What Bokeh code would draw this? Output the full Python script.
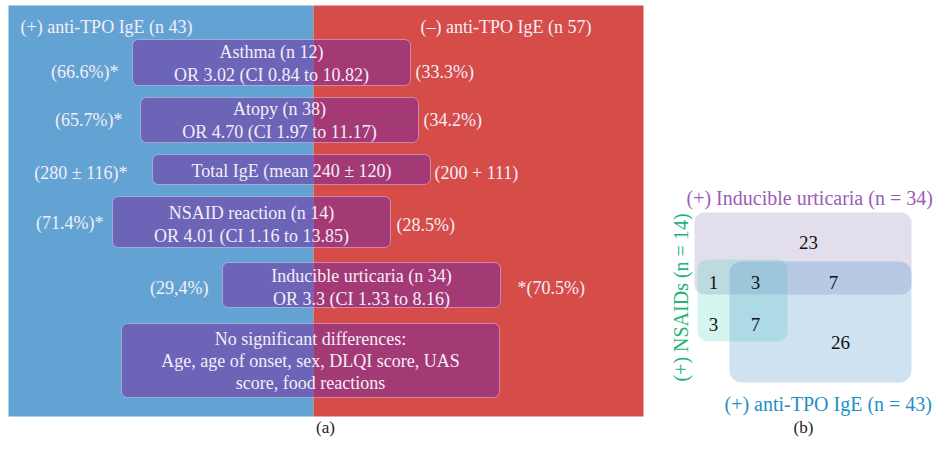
import math
from bokeh.plotting import figure
from bokeh.models import Range1d
from bokeh.embed import file_html
from bokeh.resources import INLINE
from bokeh.core.properties import value

FONT = "Liberation Serif"

# ---------------- data ----------------
group_labels = ["(+) anti-TPO IgE (n 43)", "(–) anti-TPO IgE (n 57)"]
box_lines = [
    ["Asthma (n 12)", "OR 3.02 (CI 0.84 to 10.82)"],
    ["Atopy (n 38)", "OR 4.70 (CI 1.97 to 11.17)"],
    ["Total IgE (mean 240 ± 120)"],
    ["NSAID reaction (n 14)", "OR 4.01 (CI 1.16 to 13.85)"],
    ["Inducible urticaria (n 34)", "OR 3.3 (CI 1.33 to 8.16)"],
    ["No significant differences:", "Age, age of onset, sex, DLQI score, UAS", "score, food reactions"],
]
pos_values = ["(66.6%)*", "(65.7%)*", "(280 ± 116)*", "(71.4%)*", "(29,4%)"]
neg_values = ["(33.3%)", "(34.2%)", "(200 + 111)", "(28.5%)", "*(70.5%)"]
venn_set_labels = ["(+) Inducible urticaria (n = 34)", "(+) NSAIDs (n = 14)", "(+) anti-TPO IgE (n = 43)"]
venn_counts = ["23", "1", "3", "7", "3", "7", "26"]
panel_captions = ["(a)", "(b)"]

# ---------------- layout (pixel coordinates) ----------------
box_left = [132, 140, 152, 112, 222, 121]
box_right = [410, 418, 430, 390, 500, 499]
box_top = [39, 97, 154, 196, 262, 323]
box_bottom = [85, 142, 184, 247, 307, 397]
line_y = [[51, 74], [108, 131], [170], [212, 235], [275, 298], [338, 360, 382]]
pos_x = [118, 122, 127, 103, 208]
pos_y = [71, 119, 172, 222, 287]
neg_x = [415, 423, 434, 396, 517]
neg_y = [71, 119, 172, 224, 287]

W, H = 933, 439
p = figure(width=W, height=H, x_range=Range1d(0, W), y_range=Range1d(H, 0),
           output_backend="svg", toolbar_location=None, min_border=0,
           background_fill_color="white", border_fill_color="white", outline_line_color=None)
p.axis.visible = False
p.grid.visible = False

# panel (a) backgrounds
p.quad(left=[8], right=[313], top=[5], bottom=[416], fill_color="#63a3d3", line_color=None)
p.quad(left=[313], right=[643], top=[5], bottom=[416], fill_color="#d54c49", line_color=None)

# boxes
p.quad(left=box_left, right=box_right, top=box_top, bottom=box_bottom,
       fill_color="#742a9e", fill_alpha=0.52, line_color="#e8dcf5", line_alpha=0.45,
       line_width=1, border_radius=6)

def txt(xs, ys, texts, size, color, align="center", angle=0.0, baseline="middle"):
    p.text(x=xs, y=ys, text=texts, text_font=value(FONT), text_font_size=f"{size}px",
           text_color=color, text_align=align, text_baseline=baseline, angle=angle)

for i, lines in enumerate(box_lines):
    cx = (box_left[i] + box_right[i]) / 2
    txt([cx] * len(lines), line_y[i], lines, 18, "#f4eef8")

txt(pos_x, pos_y, pos_values, 18, "#f4eef8", align="right")
txt(neg_x, neg_y, neg_values, 18, "#f4eef8", align="left")
txt([20], [26], [group_labels[0]], 18, "#f4eef8", align="left")
txt([420], [26], [group_labels[1]], 18, "#f4eef8", align="left")

# panel (b) venn
p.quad(left=[694], right=[911], top=[212], bottom=[294], fill_color="#8b7bb5", fill_alpha=0.25,
       line_color=None, border_radius=10)
p.quad(left=[697], right=[787], top=[259], bottom=[341], fill_color="#2dcdb4", fill_alpha=0.2,
       line_color=None, border_radius=10)
p.quad(left=[729], right=[911], top=[261], bottom=[382], fill_color="#3d8cc8", fill_alpha=0.25,
       line_color=None, border_radius=12)

cnt_x = [808, 713, 755, 833, 713, 755, 840]
cnt_y = [242, 282, 282, 282, 324, 324, 342]
txt(cnt_x, cnt_y, venn_counts, 19, "#111111")

txt([686], [197], [venn_set_labels[0]], 20, "#9b5cb6", align="left")
txt([680], [297], [venn_set_labels[1]], 20, "#22b37c", angle=math.pi / 2)
txt([724], [403], [venn_set_labels[2]], 20, "#1f8fc8", align="left")

txt([325, 803], [427, 427], panel_captions, 17, "#222222")

open("out.html", "w").write(file_html(p, INLINE))
